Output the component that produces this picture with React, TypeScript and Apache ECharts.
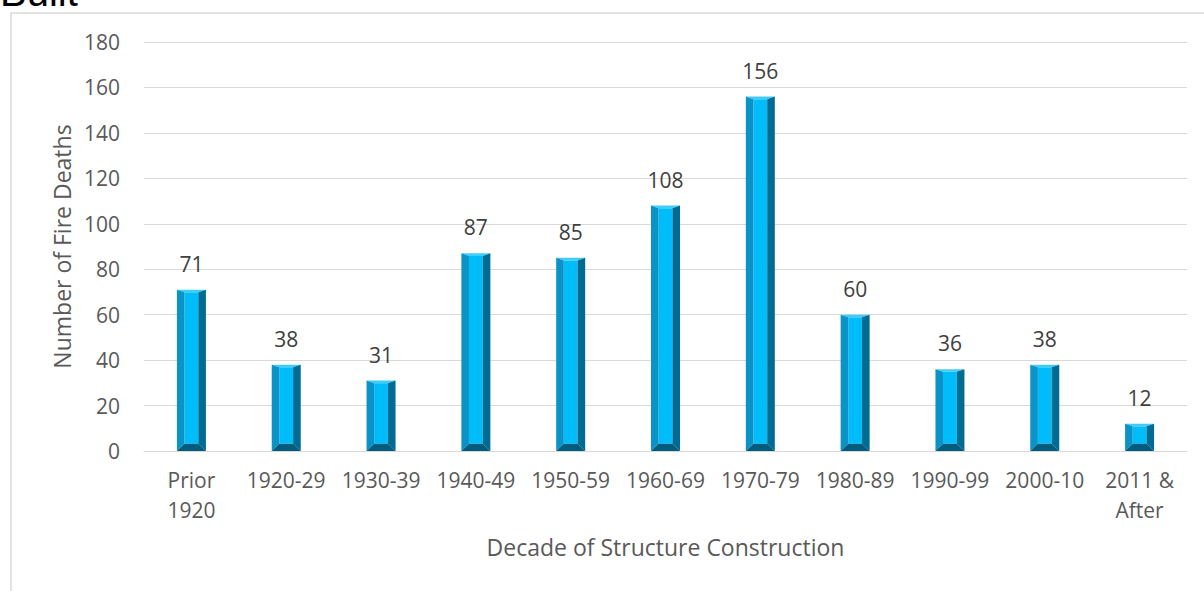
import React, { useEffect, useRef } from "react";
import * as echarts from "echarts";

const categories = ["Prior\n1920", "1920-29", "1930-39", "1940-49", "1950-59", "1960-69", "1970-79", "1980-89", "1990-99", "2000-10", "2011 &\nAfter"];
const deaths = [71, 38, 31, 87, 85, 108, 156, 60, 36, 38, 12];
const yTicks = { min: 0, max: 180, interval: 20 };

const FONT = "'Open Sans', sans-serif";

export default function App() {
  const ref = useRef<HTMLDivElement>(null);
  useEffect(() => {
    document.body.style.margin = "0";
    const chart = echarts.init(ref.current!, null, { renderer: "svg" });
    const option: any = {
      animation: false,
      backgroundColor: "#ffffff",
      grid: { left: 144, right: 17, top: 42, bottom: 140 },
      graphic: [
        {
          type: "rect",
          shape: { x: 11, y: 13, width: 1400, height: 800 },
          style: { fill: "none", stroke: "#d9d9d9", lineWidth: 1.5 },
          silent: true,
        },
        {
          type: "text",
          x: 0,
          y: -8,
          style: { text: "Built", fill: "#000000", font: "40px 'Liberation Sans', Arial, sans-serif", verticalAlign: "middle", align: "left" },
        },
      ],
      xAxis: {
        type: "category",
        data: categories,
        axisLine: { show: true, lineStyle: { color: "#d9d9d9", width: 1 } },
        axisTick: { show: false },
        axisLabel: { color: "#595959", fontFamily: FONT, fontSize: 21, lineHeight: 30, margin: 14, interval: 0 },
        name: "Decade of Structure Construction",
        nameLocation: "middle",
        nameGap: 84,
        nameTextStyle: { color: "#595959", fontFamily: FONT, fontSize: 23 },
      },
      yAxis: {
        type: "value",
        min: yTicks.min,
        max: yTicks.max,
        interval: yTicks.interval,
        axisLine: { show: false },
        axisTick: { show: false },
        splitLine: { lineStyle: { color: "#d9d9d9", width: 1 } },
        axisLabel: { color: "#595959", fontFamily: FONT, fontSize: 21, margin: 24 },
        name: "Number of Fire Deaths",
        nameLocation: "middle",
        nameGap: 64,
        nameTextStyle: { color: "#595959", fontFamily: FONT, fontSize: 23 },
      },
      series: [
        {
          type: "custom",
          data: deaths.map((v, i) => [i, v]),
          encode: { x: 0, y: 1 },
          renderItem: (params: any, api: any) => {
            const idx = api.value(0);
            const val = api.value(1);
            const top = api.coord([idx, val]);
            const base = api.coord([idx, 0]);
            const w = 29;
            const L = top[0] - w / 2;
            const R = top[0] + w / 2;
            const T = top[1];
            const B = base[1];
            const h = B - T;
            let s = 7.6, t = 2.6, b = 7.2;
            if (t + b > h - 2) {
              const k = (h - 2) / (t + b);
              t *= k;
              b *= k;
            }
            return {
              type: "group",
              children: [
                { type: "rect", shape: { x: L + s, y: T + t, width: w - 2 * s, height: h - t - b }, style: { fill: "#00bcf8" } },
                { type: "polygon", shape: { points: [[L, T], [R, T], [R - s, T + t], [L + s, T + t]] }, style: { fill: "#3fcdf7" } },
                { type: "polygon", shape: { points: [[L, T], [L + s, T + t], [L + s, B - b], [L, B]] }, style: { fill: "#0993c8" } },
                { type: "polygon", shape: { points: [[R, T], [R, B], [R - s, B - b], [R - s, T + t]] }, style: { fill: "#006b93" } },
                { type: "polygon", shape: { points: [[L, B], [L + s, B - b], [R - s, B - b], [R, B]] }, style: { fill: "#005c7d" } },
                {
                  type: "text",
                  style: { text: String(val), x: top[0], y: T - 26, align: "center", verticalAlign: "middle", fill: "#404040", font: "21px " + FONT },
                },
              ],
            };
          },
        },
      ],
    };
    chart.setOption(option);
    return () => chart.dispose();
  }, []);
  return <div ref={ref} style={{ width: 1204, height: 591 }} />;
}
